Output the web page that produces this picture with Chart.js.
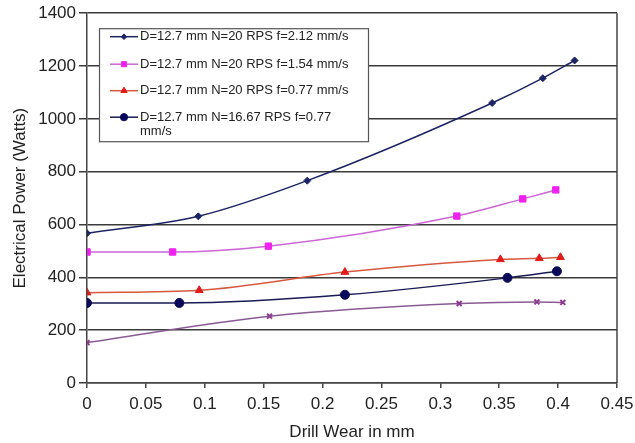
<!DOCTYPE html>
<html lang="en">
<head>
  <meta charset="UTF-8">
  <title>Electrical Power vs Drill Wear</title>
  <script src="https://cdn.jsdelivr.net/npm/chart.js"></script>
  <style>
    body { margin: 0; background: #fff; }
    .wrap { width: 635px; height: 443px; }
  </style>
</head>
<body>
  <div class="wrap"><canvas id="powerChart"></canvas></div>

  <script>
    // values
    const wearA = [0, 0.0945, 0.187, 0.344, 0.387, 0.414];
    const powerA = [567, 631, 766, 1060, 1154, 1221];
    const wearB = [0, 0.0727, 0.154, 0.314, 0.370, 0.398];
    const powerB = [496, 496, 518, 632, 697, 731];
    const wearC = [0, 0.0953, 0.219, 0.351, 0.384, 0.402];
    const powerC = [342, 351, 420, 468, 472, 476];
    const wearD = [0, 0.0784, 0.219, 0.357, 0.399];
    const powerD = [303, 303, 334, 398, 423];
    const wearE = [0, 0.155, 0.316, 0.382, 0.404];
    const powerE = [153, 253, 301, 307, 305];

    const seriesLabels = [
      'D=12.7 mm N=20 RPS f=2.12 mm/s',
      'D=12.7 mm N=20 RPS f=1.54 mm/s',
      'D=12.7 mm N=20 RPS f=0.77 mm/s',
      ['D=12.7 mm N=16.67 RPS f=0.77', 'mm/s'],
      ''
    ];

    const xTickValues = [0, 0.05, 0.1, 0.15, 0.2, 0.25, 0.3, 0.35, 0.4, 0.45];
    const yTickValues = [0, 200, 400, 600, 800, 1000, 1200, 1400];

    const pts = (xs, ys) => xs.map((x, i) => ({ x: x, y: ys[i] }));
    const FONT = 'Liberation Sans, Arial, sans-serif';

    function series(label, xs, ys, line, fill, style, radius) {
      return {
        label: label,
        data: pts(xs, ys),
        borderColor: line,
        borderWidth: 1.5,
        pointBackgroundColor: fill,
        pointBorderColor: fill,
        pointBorderWidth: style === 'crossRot' ? 2 : 1,
        pointStyle: style,
        pointRadius: radius,
        cubicInterpolationMode: 'monotone',
        fill: false
      };
    }

    // legend drawn as a white box inside the plot, like the original
    const boxLegend = {
      id: 'boxLegend',
      afterDatasetsDraw(chart) {
        const ctx = chart.ctx;
        const area = chart.chartArea;
        const left = area.left + 12, top = area.top + 15;
        const w = 269, h = 113;
        ctx.save();
        ctx.fillStyle = '#fff';
        ctx.fillRect(left, top, w, h);
        ctx.strokeStyle = '#555';
        ctx.lineWidth = 1.2;
        ctx.strokeRect(left + 0.5, top + 0.5, w, h);

        const rows = [8.5, 36, 62.5, 89];
        chart.data.datasets.slice(0, 4).forEach((ds, i) => {
          const y = top + rows[i];
          ctx.strokeStyle = ds.borderColor;
          ctx.lineWidth = 1.5;
          ctx.beginPath();
          ctx.moveTo(left + 11, y);
          ctx.lineTo(left + 39, y);
          ctx.stroke();

          ctx.fillStyle = ds.pointBackgroundColor;
          ctx.strokeStyle = ds.pointBorderColor;
          ctx.lineWidth = ds.pointBorderWidth;
          Chart.helpers.drawPoint(ctx, {
            pointStyle: ds.pointStyle,
            radius: ds.pointRadius * 0.8,
            rotation: 0,
            borderWidth: ds.pointBorderWidth
          }, left + 25, y);

          ctx.fillStyle = '#222';
          ctx.font = '13px ' + FONT;
          ctx.textBaseline = 'middle';
          ctx.textAlign = 'left';
          const lines = Array.isArray(ds.label) ? ds.label : [ds.label];
          lines.forEach((t, k) => ctx.fillText(t, left + 41, y + k * 14));
        });
        ctx.restore();

        // right edge of the plot box
        ctx.save();
        ctx.strokeStyle = '#444';
        ctx.lineWidth = 1.5;
        ctx.beginPath();
        ctx.moveTo(area.right, area.top);
        ctx.lineTo(area.right, area.bottom);
        ctx.stroke();
        ctx.restore();
      }
    };

    document.addEventListener('DOMContentLoaded', () => {
      const ctx = document.getElementById('powerChart').getContext('2d');
      new Chart(ctx, {
        type: 'line',
        data: {
          datasets: [
            series(seriesLabels[0], wearA, powerA, '#1c2466', '#1c2466', 'rectRot', 3.5),
            series(seriesLabels[1], wearB, powerB, '#cc66d6', '#ee22ee', 'rect', 4.5),
            series(seriesLabels[2], wearC, powerC, '#d8583e', '#e01b1b', 'triangle', 4.5),
            series(seriesLabels[3], wearD, powerD, '#1a1a55', '#0a0a5a', 'circle', 4.5),
            series(seriesLabels[4], wearE, powerE, '#8a5a95', '#8e3a8e', 'crossRot', 3.5)
          ]
        },
        options: {
          responsive: true,
          maintainAspectRatio: false,
          animation: false,
          layout: { padding: { top: 12, right: 18, left: 0, bottom: 0 } },
          plugins: {
            legend: { display: false },
            tooltip: { enabled: false }
          },
          scales: {
            x: {
              type: 'linear',
              min: 0,
              max: 0.45,
              afterBuildTicks: (scale) => { scale.ticks = xTickValues.map(v => ({ value: v })); },
              ticks: {
                color: '#222',
                font: { family: FONT, size: 17 },
                padding: 6,
                maxRotation: 0,
                callback: (v) => String(v)
              },
              grid: { drawOnChartArea: false, drawTicks: true, tickLength: 5, color: '#444', lineWidth: 1.5 },
              border: { display: true, color: '#444', width: 1.5 },
              title: {
                display: true,
                text: 'Drill Wear in mm',
                color: '#222',
                font: { family: FONT, size: 17 },
                padding: { top: 2, bottom: 0 }
              },
              afterFit: (scale) => { scale.height = 60; scale.paddingRight = 0; scale.paddingLeft = 0; }
            },
            y: {
              type: 'linear',
              min: 0,
              max: 1400,
              afterBuildTicks: (scale) => { scale.ticks = yTickValues.map(v => ({ value: v })); },
              ticks: {
                color: '#222',
                font: { family: FONT, size: 17 },
                padding: 3,
                callback: (v) => String(v)
              },
              grid: { color: '#3a3a3a', lineWidth: 1.5, tickLength: 8 },
              border: { display: true, color: '#444', width: 1.5 },
              title: {
                display: true,
                text: 'Electrical Power (Watts)',
                color: '#222',
                font: { family: FONT, size: 17 },
                padding: { top: 10, bottom: 6 }
              },
              afterFit: (scale) => { scale.width = 87; }
            }
          }
        },
        plugins: [boxLegend]
      });
    });
  </script>
</body>
</html>
